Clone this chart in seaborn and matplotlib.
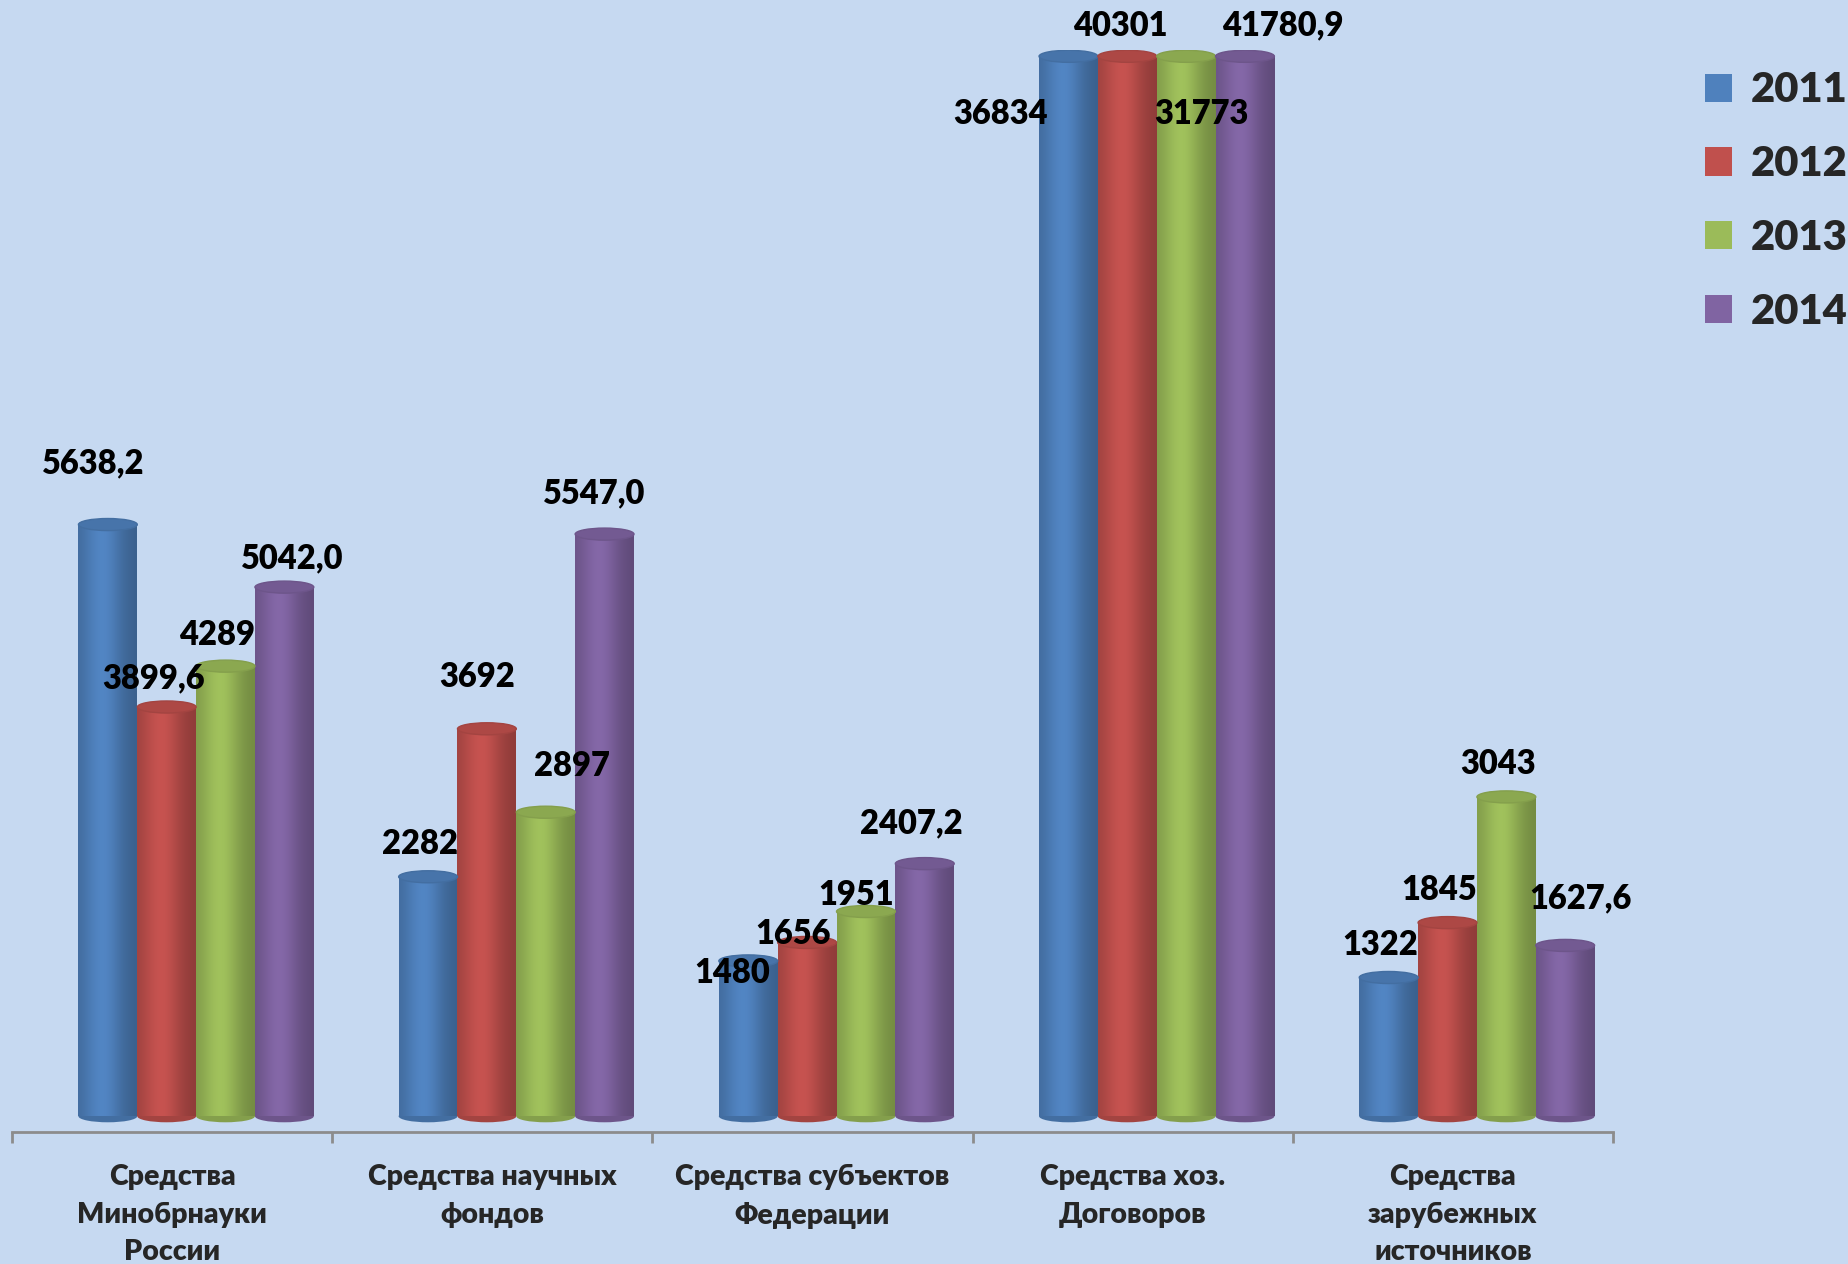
import numpy as np
import pandas as pd
import matplotlib
matplotlib.use("Agg")
import matplotlib.pyplot as plt
from matplotlib.patches import Ellipse
from matplotlib import colors as mcolors
from matplotlib.font_manager import FontProperties
import seaborn as sns

# ---------------- data ----------------
categories = ["Средства\nМинобрнауки\nРоссии", "Средства научных\nфондов",
              "Средства субъектов\nФедерации", "Средства хоз.\nДоговоров",
              "Средства\nзарубежных\nисточников"]
years = ["2011", "2012", "2013", "2014"]
v2011 = [5638.2, 2282, 1480, 36834, 1322]
v2012 = [3899.6, 3692, 1656, 40301, 1845]
v2013 = [4289, 2897, 1951, 31773, 3043]
v2014 = [5042.0, 5547.0, 2407.2, 41780.9, 1627.6]
t2011 = ["5638,2", "2282", "1480", "36834", "1322"]
t2012 = ["3899,6", "3692", "1656", "40301", "1845"]
t2013 = ["4289", "2897", "1951", "31773", "3043"]
t2014 = ["5042,0", "5547,0", "2407,2", "41780,9", "1627,6"]

palette = ["#4f81bd", "#c0504d", "#9bbb59", "#8064a2"]
bg = "#c6d9f1"

rows = []
for y, vals in zip(years, [v2011, v2012, v2013, v2014]):
    for c, v in zip(categories, vals):
        rows.append({"cat": c, "year": y, "value": v})
df = pd.DataFrame(rows)
texts = {"2011": t2011, "2012": t2012, "2013": t2013, "2014": t2014}

# label offsets per year/category
s = 0.849
offs = {
    "2011": [(-12, -52), (-7, -28), (-14, 10), (-58, 49), (-7, -28)],
    "2012": [(-11, -24), (-8, -44), (-12, -7), (-6, -26), (-7, -28)],
    "2013": [(-7, -26), (22, -39), (-8, -14), (13, 49), (-7, -28)],
    "2014": [(7, -24), (-9, -35), (-11, -34), (32, -26), (13, -40)],
}

FONT = ["Lato", "DejaVu Sans"]
W = "heavy"
sns.set_theme(style="white")
plt.rcParams["font.family"] = FONT
plt.rcParams["font.weight"] = W

fig = plt.figure(figsize=(18.49, 12.64), dpi=100, facecolor=bg)
ax = fig.add_axes([12 / 1849, 1 - 1132 / 1264, (1613 - 12) / 1849, (1132 - 50) / 1264])
ax.set_facecolor(bg)

sns.barplot(data=df, x="cat", y="value", hue="year", palette=palette,
            width=0.735, dodge=True, ax=ax, legend=True, saturation=1,
            linewidth=0, errorbar=None)

YTOP = 10160
CLIP = 10100
ax.set_ylim(-150, YTOP)
ax.set_xlim(-0.5, 4.5)
shift = 0.075
EH = 115  # ellipse height in data units

for ci, cont in enumerate(ax.containers):
    year = years[ci]
    base = np.array(mcolors.to_rgb(palette[ci]))
    for j, p in enumerate(cont.patches):
        p.set_x(p.get_x() + shift)
        x0, w = p.get_x(), p.get_width()
        h = p.get_height()
        top = min(h, CLIP)
        p.set_height(top)
        p.set_facecolor("none")
        n = 64
        t = np.linspace(0, 1, n)
        fac = 0.80 + 0.26 * np.exp(-((t - 0.42) / 0.33) ** 2) - 0.06 * t
        grad = np.clip(base[None, :] * fac[:, None], 0, 1)[None, :, :]
        im = ax.imshow(grad, extent=[x0, x0 + w, 0, top], aspect="auto",
                       interpolation="bicubic", zorder=2)
        im.set_clip_path(p)
        eb = Ellipse((x0 + w / 2, 0), w, EH, facecolor=base * 0.85, edgecolor="none", zorder=1.9)
        ax.add_patch(eb)
        et = Ellipse((x0 + w / 2, top), w, EH, facecolor=np.clip(base * 0.9, 0, 1),
                     edgecolor=np.clip(base * 0.85, 0, 1), linewidth=1, zorder=3)
        ax.add_patch(et)
        dx, dy = offs[year][j]
        ax.annotate(texts[year][j], (x0 + w / 2, top), xytext=(dx * s, -dy * s),
                    textcoords="offset points", ha="center", va="center",
                    fontsize=23.5, fontweight=W, color="black", zorder=5,
                    annotation_clip=False)

for side in ["top", "right", "left"]:
    ax.spines[side].set_visible(False)
ax.spines["bottom"].set_color("#8c8c8c")
ax.spines["bottom"].set_linewidth(2)
ax.set_yticks([])
ax.set_xlabel("")
ax.set_ylabel("")
ax.set_xticks(range(len(categories)))
ax.set_xticklabels(categories, fontsize=20.5, fontweight=W, linespacing=1.56)
ax.tick_params(axis="x", which="major", length=0, pad=23, bottom=True)
ax.set_xticks(np.arange(-0.5, len(categories)), minor=True)
ax.tick_params(axis="x", which="minor", length=8, width=2, color="#8c8c8c",
               direction="out", bottom=True)

handles, labels = ax.get_legend_handles_labels()
ax.get_legend().remove()
fp = FontProperties(family=FONT, weight=W, size=30)
fig.legend(handles, labels, loc="center left",
           bbox_to_anchor=(1705 / 1849, 1 - 201 / 1264), frameon=False,
           prop=fp, handlelength=0.66, handleheight=0.66, handletextpad=0.45,
           labelspacing=0.86, borderpad=0, borderaxespad=0)

fig.savefig("out.png", dpi=100, facecolor=bg)
